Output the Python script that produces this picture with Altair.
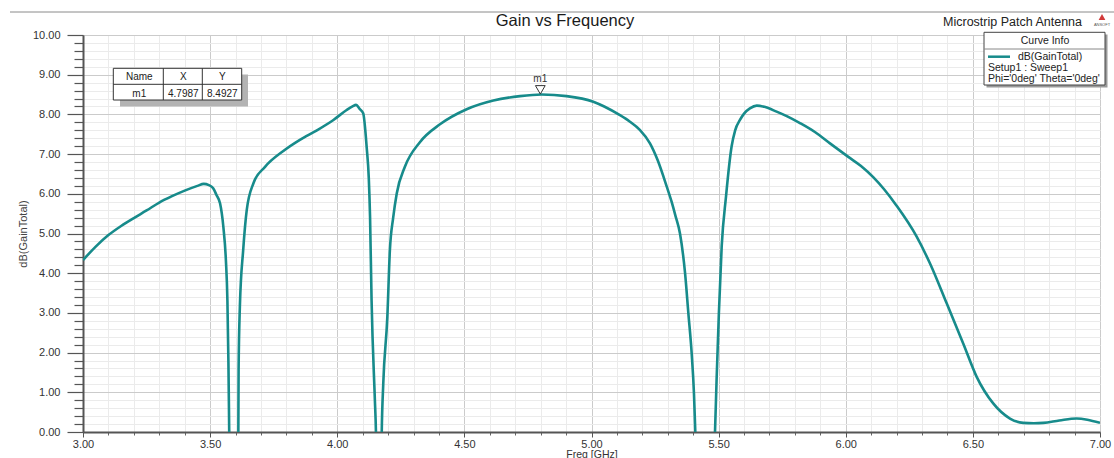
import altair as alt
import pandas as pd

# ---------------- data ----------------
freq_ghz = [3.00, 3.05, 3.10, 3.15, 3.20, 3.25, 3.30, 3.35, 3.40, 3.45, 3.475, 3.495,
            3.512, 3.525, 3.539, 3.552, 3.562, 3.568, 3.572, 3.575, 3.585, 3.595, 3.605,
            3.611, 3.612, 3.617, 3.630, 3.644, 3.670, 3.716, 3.788, 3.853, 3.920, 3.985,
            4.037, 4.060, 4.074, 4.088, 4.102, 4.116, 4.124, 4.129, 4.135, 4.148, 4.152,
            4.160, 4.168, 4.175, 4.181, 4.197, 4.207, 4.220, 4.234, 4.266, 4.325, 4.404,
            4.509, 4.614, 4.719, 4.804, 4.902, 5.007, 5.050, 5.112, 5.150, 5.190, 5.230,
            5.260, 5.296, 5.315, 5.330,
            5.348, 5.368, 5.381, 5.394, 5.403, 5.408, 5.430, 5.460, 5.486, 5.492, 5.501,
            5.512, 5.529, 5.551, 5.565, 5.584, 5.600, 5.623, 5.650, 5.680, 5.728, 5.770,
            5.820, 5.880, 5.938, 6.010, 6.060, 6.108, 6.150, 6.200, 6.279, 6.331, 6.397,
            6.462, 6.515, 6.580, 6.646, 6.698, 6.740, 6.777, 6.840, 6.908, 6.950, 7.000]
gain_db = [4.33, 4.67, 4.96, 5.19, 5.39, 5.58, 5.78, 5.94, 6.08, 6.20, 6.25, 6.22,
           6.14, 5.97, 5.76, 5.17, 4.33, 3.30, 1.73, 0.05, -4.0, -5.0, -4.0,
           0.00, 1.56, 3.16, 4.58, 5.59, 6.26, 6.68, 7.08, 7.36, 7.60, 7.86,
           8.11, 8.20, 8.24, 8.14, 8.03, 7.15, 6.40, 5.42, 3.32, 0.80, 0.05,
           -4.0, -4.0, 0.00, 1.22, 2.90, 4.58, 5.40, 6.01, 6.68, 7.30, 7.75,
           8.13, 8.35, 8.46, 8.50, 8.46, 8.32, 8.20, 7.98, 7.82, 7.61, 7.27,
           6.85, 6.18, 5.80, 5.45,
           5.00, 4.00, 2.99, 1.98, 0.97, 0.05, -4.0, -4.0, 0.05, 1.31, 2.99,
           4.67, 5.93, 7.19, 7.60, 7.86, 8.02, 8.15, 8.22, 8.19, 8.07, 7.95,
           7.78, 7.55, 7.27, 6.93, 6.70, 6.42, 6.12, 5.70, 4.92, 4.25, 3.24,
           2.23, 1.39, 0.72, 0.34, 0.23, 0.22, 0.23, 0.29, 0.34, 0.31, 0.23]

marker_name = ["m1"]
marker_x = [4.7987]
marker_y = [8.4927]

x_major = [3.0, 3.5, 4.0, 4.5, 5.0, 5.5, 6.0, 6.5, 7.0]
x_minor = [3.1, 3.2, 3.3, 3.4, 3.6, 3.7, 3.8, 3.9, 4.1, 4.2, 4.3, 4.4, 4.6, 4.7, 4.8, 4.9,
           5.1, 5.2, 5.3, 5.4, 5.6, 5.7, 5.8, 5.9, 6.1, 6.2, 6.3, 6.4, 6.6, 6.7, 6.8, 6.9]
y_major = [0, 1, 2, 3, 4, 5, 6, 7, 8, 9, 10]
y_minor = [0.2, 0.4, 0.6, 0.8, 1.2, 1.4, 1.6, 1.8, 2.2, 2.4, 2.6, 2.8, 3.2, 3.4, 3.6, 3.8,
           4.2, 4.4, 4.6, 4.8, 5.2, 5.4, 5.6, 5.8, 6.2, 6.4, 6.6, 6.8, 7.2, 7.4, 7.6, 7.8,
           8.2, 8.4, 8.6, 8.8, 9.2, 9.4, 9.6, 9.8]

title_text = "Gain vs Frequency"
subtitle_text = "Microstrip Patch Antenna"
x_title = "Freq [GHz]"
y_title = "dB(GainTotal)"
legend_title = "Curve Info"
legend_lines = ["dB(GainTotal)", "Setup1 : Sweep1", "Phi='0deg' Theta='0deg'"]
table_header = ["Name", "X", "Y"]

# ---------------- chart ----------------
FONT = "Liberation Sans"
TEAL = "#178b8b"
W, H = 1017, 397

curve = pd.DataFrame({"freq": freq_ghz, "gain": gain_db})
marker = pd.DataFrame({"name": marker_name, "x": marker_x, "y": marker_y})
one = pd.DataFrame({"k": [0]})

xs = alt.Scale(domain=[3, 7], nice=False, zero=False)
ys = alt.Scale(domain=[0, 10], nice=False, zero=False)

x_minor_axis = alt.Axis(values=x_minor, labels=False, grid=True, gridColor="#ebebeb",
                        tickSize=3, tickColor="#666", domain=False, title=None, orient="bottom")
y_minor_axis = alt.Axis(values=y_minor, labels=False, grid=True, gridColor="#ebebeb",
                        tickSize=9, tickColor="#555", tickWidth=1.2, domain=False, title=None,
                        orient="left")

x_major_axis = alt.Axis(values=x_major, format=".2f", grid=True, gridColor="#cbcbcb",
                        tickSize=5, tickColor="#555", domainColor="#555", domainWidth=2,
                        labelFont=FONT, labelFontSize=11, labelColor="#333", labelPadding=1,
                        labelFlush=False, labelOverlap=False,
                        title=x_title, titleFont=FONT, titleFontSize=10.5,
                        titleFontWeight="normal", titleColor="#333", titlePadding=0,
                        orient="bottom")
y_major_axis = alt.Axis(values=y_major, format=".2f", grid=True, gridColor="#cbcbcb",
                        tickSize=16, tickColor="#555", tickWidth=1.2, domainColor="#555",
                        domainWidth=2, labelFont=FONT, labelFontSize=11, labelColor="#333",
                        labelPadding=7, labelFlush=False, labelOverlap=False,
                        title=y_title, titleFont=FONT, titleFontSize=11,
                        titleFontWeight="normal", titleColor="#444", titlePadding=4,
                        orient="left")

minor_layer = alt.Chart(curve).mark_line(opacity=0).encode(
    x=alt.X("freq:Q", scale=xs, axis=x_minor_axis),
    y=alt.Y("gain:Q", scale=ys, axis=y_minor_axis),
)

line_layer = alt.Chart(curve).mark_line(
    color=TEAL, strokeWidth=2.6, clip=True, interpolate="monotone"
).encode(
    x=alt.X("freq:Q", scale=xs, axis=x_major_axis),
    y=alt.Y("gain:Q", scale=ys, axis=y_major_axis),
)

marker_pt = alt.Chart(marker).mark_point(
    shape="triangle-down", filled=True, fill="white", stroke="#333", strokeWidth=1,
    size=95, yOffset=-5, opacity=1
).encode(
    x=alt.X("x:Q", scale=xs, axis=None),
    y=alt.Y("y:Q", scale=ys, axis=None),
)
marker_lbl = alt.Chart(marker).mark_text(
    font=FONT, fontSize=10, color="#333", yOffset=-16
).encode(
    x=alt.X("x:Q", scale=xs, axis=None),
    y=alt.Y("y:Q", scale=ys, axis=None),
    text="name:N",
)


def rect(x1, x2, y1, y2, **kw):
    return alt.Chart(one).mark_rect(**kw).encode(
        x=alt.value(x1), x2=alt.value(x2), y=alt.value(y1), y2=alt.value(y2))


def hrule(x1, x2, y, color="#333", width=1):
    return alt.Chart(one).mark_rule(color=color, strokeWidth=width).encode(
        x=alt.value(x1), x2=alt.value(x2), y=alt.value(y))


def vrule(x, y1, y2, color="#333", width=1):
    return alt.Chart(one).mark_rule(color=color, strokeWidth=width).encode(
        x=alt.value(x), y=alt.value(y1), y2=alt.value(y2))


def label(x, y, text, size=10, align="left", color="#222", weight="normal", baseline="middle"):
    return alt.Chart(one).mark_text(
        font=FONT, fontSize=size, align=align, baseline=baseline, color=color,
        fontWeight=weight
    ).encode(x=alt.value(x), y=alt.value(y), text=alt.value(text))


# marker table
table_layers = [
    rect(37, 165, 39.5, 71.5, fill="#b3b3b3"),
    rect(30.3, 158.7, 33.3, 65, fill="white", stroke="#333", strokeWidth=1),
    hrule(30.3, 158.7, 49.3),
    vrule(80.3, 33.3, 65),
    vrule(119.3, 33.3, 65),
    label(56.3, 42.3, table_header[0], align="center"),
    label(100.3, 42.3, table_header[1], align="center"),
    label(139.3, 42.3, table_header[2], align="center"),
    alt.Chart(marker).mark_text(font=FONT, fontSize=10, color="#222").encode(
        x=alt.value(56.3), y=alt.value(58.7), text="name:N"),
    alt.Chart(marker).mark_text(font=FONT, fontSize=10, color="#222").encode(
        x=alt.value(100.3), y=alt.value(58.7), text=alt.Text("x:Q", format=".4f")),
    alt.Chart(marker).mark_text(font=FONT, fontSize=10, color="#222").encode(
        x=alt.value(139.3), y=alt.value(58.7), text=alt.Text("y:Q", format=".4f")),
]

# curve info box
legend_layers = [
    rect(903.5, 1024.5, -0.5, 52.5, fill="#9a9a9a"),
    rect(901, 1022, -2.7, 50, fill="white", stroke="#444", strokeWidth=1),
    hrule(901, 1022, 14, color="#888"),
    label(962, 6.2, legend_title, size=10.5, align="center"),
    hrule(905, 927, 21.7, color=TEAL, width=2.5),
    label(935, 21.7, legend_lines[0], size=10.5),
    label(905, 33.3, legend_lines[1], size=10.5),
    label(905, 43.5, legend_lines[2], size=10.5),
]

# header texts and decorations
header_layers = [
    hrule(-73, 1031, -23, color="#8a8a8a", width=1),
    label(482, -14, title_text, size=16.5, align="center", color="#1a1a1a"),
    label(999, -13, subtitle_text, size=12.5, align="right", color="#222"),
    alt.Chart(one).mark_point(shape="triangle-up", filled=True, color="#d23a3a", size=45,
                              opacity=1).encode(x=alt.value(1019), y=alt.value(-18)),
    label(1019, -10, "ANSOFT", size=4, align="center", color="#555"),
]

chart = alt.layer(
    minor_layer, line_layer, marker_pt, marker_lbl,
    *table_layers, *legend_layers, *header_layers
).resolve_axis(
    x="independent", y="independent"
).properties(
    width=W, height=H,
    autosize=alt.AutoSizeParams(type="none"),
    padding={"left": 83, "top": 35, "right": 14, "bottom": 26},
    background="white",
).configure_view(stroke="#777", strokeWidth=1)

chart.save("out.html", embed_options={"renderer": "svg", "actions": False})
